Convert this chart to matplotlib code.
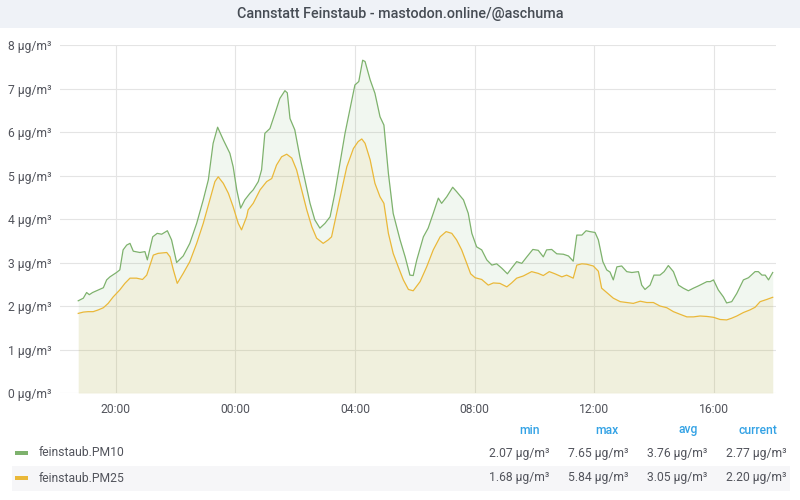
import matplotlib
matplotlib.use('Agg')
import matplotlib.pyplot as plt
from matplotlib.patches import Rectangle
from matplotlib.ticker import FixedLocator, FuncFormatter

plt.rcParams['font.family'] = ['Roboto', 'DejaVu Sans']

title = 'Cannstatt Feinstaub - mastodon.online/@aschuma'
unit = 'µg/m³'

# hours relative to midnight (negative = previous evening)
pm10_t = [-5.25, -5.08, -4.97, -4.88, -4.77, -4.64, -4.41, -4.30, -4.19, -3.97,
          -3.86, -3.75, -3.63, -3.52, -3.41, -3.19, -3.02, -2.94, -2.76, -2.61,
          -2.46, -2.27, -2.13, -1.96, -1.74, -1.52, -1.29, -1.07, -0.90, -0.74,
          -0.59, -0.40, -0.18, -0.07, 0.05, 0.18, 0.32, 0.49, 0.60, 0.77,
          0.88, 0.99, 1.16, 1.33, 1.49, 1.66, 1.74, 1.83, 1.99, 2.16,
          2.33, 2.50, 2.66, 2.83, 3.00, 3.17, 3.33, 3.50, 3.67, 3.83,
          4.00, 4.13, 4.26, 4.34, 4.51, 4.67, 4.84, 4.97, 5.12, 5.28,
          5.51, 5.68, 5.84, 5.95, 6.07, 6.29, 6.45, 6.62, 6.79, 6.90,
          7.07, 7.27, 7.40, 7.63, 7.79, 7.91, 8.07, 8.24, 8.41, 8.58,
          8.74, 8.91, 9.10, 9.24, 9.41, 9.58, 9.75, 9.95, 10.13, 10.30,
          10.41, 10.58, 10.75, 10.97, 11.14, 11.30, 11.42, 11.59, 11.73, 11.86,
          12.03, 12.14, 12.29, 12.42, 12.53, 12.64, 12.76, 12.92, 13.09, 13.26,
          13.48, 13.59, 13.70, 13.87, 14.00, 14.20, 14.34, 14.48, 14.65, 14.82,
          14.98, 15.15, 15.32, 15.48, 15.65, 15.77, 15.88, 15.99, 16.15, 16.32,
          16.43, 16.60, 16.77, 16.99, 17.16, 17.38, 17.49, 17.61, 17.72, 17.83,
          17.97]
pm10_v = [2.12, 2.18, 2.31, 2.26, 2.31, 2.35, 2.42, 2.60, 2.67, 2.77,
          2.83, 3.29, 3.40, 3.44, 3.26, 3.23, 3.25, 3.06, 3.59, 3.67,
          3.65, 3.73, 3.52, 3.00, 3.15, 3.44, 3.90, 4.44, 4.90, 5.74,
          6.11, 5.82, 5.51, 5.20, 4.67, 4.25, 4.44, 4.59, 4.67, 4.86,
          5.13, 5.97, 6.08, 6.43, 6.77, 6.95, 6.90, 6.31, 6.05, 5.43,
          4.90, 4.36, 3.98, 3.79, 3.90, 4.05, 4.59, 5.28, 5.97, 6.51,
          7.08, 7.16, 7.65, 7.62, 7.20, 6.89, 6.35, 6.16, 5.05, 4.13,
          3.52, 3.13, 2.71, 2.70, 3.06, 3.59, 3.79, 4.13, 4.48, 4.36,
          4.51, 4.73, 4.63, 4.44, 4.13, 3.67, 3.36, 3.29, 3.06, 2.94,
          2.97, 2.87, 2.74, 2.87, 3.02, 2.98, 3.13, 3.30, 3.28, 3.13,
          3.29, 3.30, 3.20, 3.19, 3.15, 3.03, 3.63, 3.63, 3.73, 3.71,
          3.69, 3.52, 3.02, 2.83, 2.78, 2.60, 2.90, 2.92, 2.79, 2.77,
          2.79, 2.48, 2.38, 2.48, 2.71, 2.71, 2.79, 2.93, 2.79, 2.48,
          2.41, 2.35, 2.41, 2.46, 2.52, 2.56, 2.56, 2.60, 2.37, 2.21,
          2.07, 2.10, 2.29, 2.60, 2.65, 2.79, 2.79, 2.71, 2.71, 2.60,
          2.77]

pm25_t = [-5.25, -5.08, -4.92, -4.75, -4.58, -4.41, -4.25, -4.08, -3.86, -3.69,
          -3.52, -3.30, -3.10, -2.96, -2.74, -2.58, -2.29, -2.18, -2.07, -1.94,
          -1.74, -1.52, -1.29, -1.07, -0.85, -0.68, -0.57, -0.40, -0.23, -0.07,
          0.10, 0.21, 0.38, 0.43, 0.60, 0.83, 1.05, 1.22, 1.38, 1.55,
          1.72, 1.89, 2.05, 2.22, 2.39, 2.56, 2.72, 2.94, 3.11, 3.22,
          3.39, 3.56, 3.73, 3.95, 4.11, 4.23, 4.34, 4.51, 4.67, 4.84,
          4.97, 5.12, 5.28, 5.45, 5.62, 5.79, 5.95, 6.18, 6.40, 6.62,
          6.85, 7.05, 7.24, 7.40, 7.57, 7.74, 7.87, 8.02, 8.24, 8.46,
          8.63, 8.85, 9.08, 9.24, 9.41, 9.63, 9.91, 10.13, 10.30, 10.50,
          10.69, 10.92, 11.08, 11.30, 11.42, 11.59, 11.75, 11.97, 12.14, 12.25,
          12.42, 12.64, 12.87, 13.09, 13.31, 13.54, 13.76, 13.98, 14.20, 14.43,
          14.65, 14.87, 15.10, 15.32, 15.54, 15.77, 15.99, 16.21, 16.43, 16.60,
          16.77, 16.99, 17.21, 17.38, 17.55, 17.77, 17.97]
pm25_v = [1.83, 1.86, 1.87, 1.87, 1.91, 1.96, 2.06, 2.21, 2.37, 2.52,
          2.64, 2.64, 2.61, 2.71, 3.17, 3.21, 3.23, 3.13, 2.83, 2.52,
          2.75, 3.02, 3.44, 3.90, 4.44, 4.86, 4.97, 4.82, 4.59, 4.28,
          3.90, 3.75, 4.05, 4.21, 4.36, 4.67, 4.86, 4.93, 5.24, 5.43,
          5.49, 5.40, 5.13, 4.67, 4.21, 3.82, 3.56, 3.44, 3.52, 3.59,
          4.13, 4.67, 5.20, 5.62, 5.78, 5.84, 5.74, 5.36, 4.82, 4.51,
          4.36, 3.67, 3.21, 2.90, 2.60, 2.38, 2.35, 2.56, 2.90, 3.29,
          3.59, 3.71, 3.67, 3.52, 3.29, 2.98, 2.74, 2.65, 2.61, 2.48,
          2.53, 2.52, 2.44, 2.53, 2.64, 2.69, 2.79, 2.75, 2.70, 2.79,
          2.74, 2.67, 2.71, 2.64, 2.94, 2.97, 2.96, 2.92, 2.80, 2.41,
          2.31, 2.18, 2.10, 2.08, 2.06, 2.11, 2.08, 2.08, 2.00, 1.96,
          1.87, 1.81, 1.75, 1.75, 1.77, 1.76, 1.74, 1.69, 1.68, 1.72,
          1.77, 1.85, 1.91, 1.97, 2.10, 2.15, 2.20]

series_names = ['feinstaub.PM10', 'feinstaub.PM25']
series_colors = ['#7eb26d', '#eab839']
stat_names = ['min', 'max', 'avg', 'current']
stats = [['2.07', '7.65', '3.76', '2.77'],
         ['1.68', '5.84', '3.05', '2.20']]

x_ticks = [-4, 0, 4, 8, 12, 16]
y_ticks = [0, 1, 2, 3, 4, 5, 6, 7, 8]

W, H = 800, 500
fig = plt.figure(figsize=(8, 5), dpi=100)
fig.patch.set_facecolor('white')

# title bar
fig.patches.append(Rectangle((0, 1 - 28 / H), 1, 28 / H, transform=fig.transFigure,
                             facecolor='#eff2f7', edgecolor='none', zorder=0))
fig.text(0.5, 1 - 14 / H, title, ha='center', va='center', fontsize=10.4,
         fontweight='medium', color='#464c54')

ax = fig.add_axes([60 / W, 1 - 393 / H, 716 / W, 348 / H])
ax.set_facecolor('white')
for s in ax.spines.values():
    s.set_visible(False)

data = [(pm10_t, pm10_v), (pm25_t, pm25_v)]
for (t, v), c in zip(data, series_colors):
    ax.fill_between(t, 0, v, color=c, alpha=0.1, linewidth=0, zorder=2)
    ax.plot(t, v, color=c, linewidth=0.9, zorder=3)

ax.set_xlim(-5.86, 18.08)
ax.set_ylim(0, 8)
ax.xaxis.set_major_locator(FixedLocator(x_ticks))
ax.xaxis.set_major_formatter(FuncFormatter(lambda h, p: '%02d:00' % (int(h) % 24)))
ax.yaxis.set_major_locator(FixedLocator(y_ticks))
ax.yaxis.set_major_formatter(FuncFormatter(lambda v, p: '%d %s' % (v, unit)))
ax.grid(True, color='#e4e4e4', linewidth=0.8, zorder=1)
ax.set_axisbelow(True)
ax.tick_params(length=0, labelsize=8.7, labelcolor='#52545c')
ax.tick_params(axis='y', pad=6)
ax.tick_params(axis='x', pad=7)

# legend table
col_right = [540, 619, 698, 777]
val_right = [549, 628, 707, 786]
for name, xr in zip(stat_names, col_right):
    fig.text(xr / W, 1 - 430 / H, name, ha='right', va='center', fontsize=8.7,
             fontweight='medium', color='#33a2e5')

row_y = [453, 478]
fig.patches.append(Rectangle((12 / W, 1 - 491 / H), 778 / W, 25 / H,
                             transform=fig.transFigure, facecolor='#f6f6f8',
                             edgecolor='none', zorder=0))
for i, (name, c) in enumerate(zip(series_names, series_colors)):
    y = 1 - row_y[i] / H
    fig.patches.append(Rectangle((15 / W, y - 2 / H), 13 / W, 4 / H,
                                 transform=fig.transFigure, facecolor=c,
                                 edgecolor='none', zorder=1))
    fig.text(39 / W, y, name, ha='left', va='center', fontsize=8.7, color='#52545c')
    for val, xr in zip(stats[i], val_right):
        fig.text(xr / W, y, '%s %s' % (val, unit), ha='right', va='center',
                 fontsize=8.7, color='#52545c')

fig.savefig('out.png', dpi=100, facecolor='white')
